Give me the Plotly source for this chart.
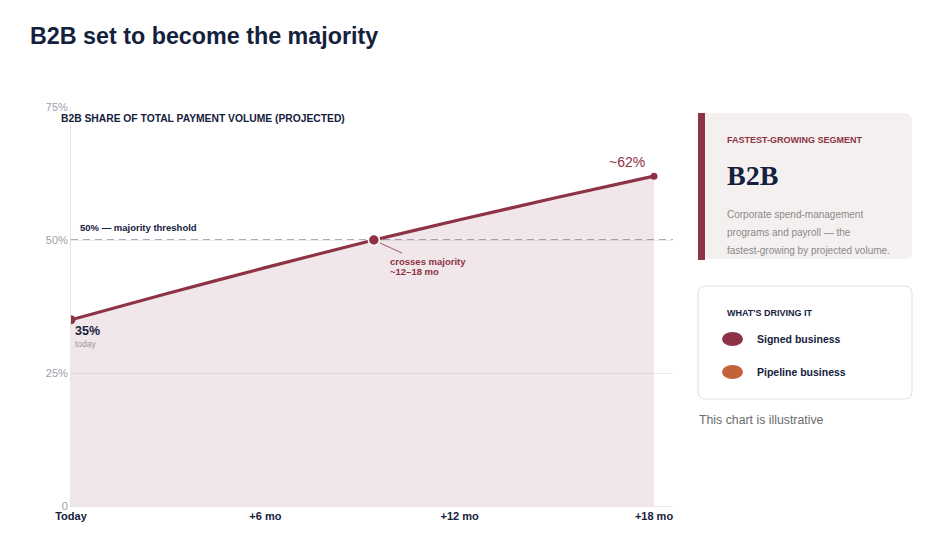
import plotly.graph_objects as go

# ---- data ----
months = [0, 3, 6, 9.35, 12, 15, 18]
share = [35, 40.0, 44.8, 50, 53.8, 58.0, 62]
key_months = [0, 9.35, 18]
key_share = [35, 50, 62]
x_tickvals = [0, 6, 12, 18]
x_ticktext = ["Today", "+6 mo", "+12 mo", "+18 mo"]
y_tickvals = [0, 25, 50, 75]
y_ticktext = ["0", "25%", "50%", "75%"]
threshold = 50

OFF = 8  # page body margin
W, H = 942, 558
# plot area in screenshot pixels: x 71..673, y 107..506
L, T = 71 - OFF, 107 - OFF
R = W - (673 - OFF)
B = H - (506 - OFF)
PW, PH = W - L - R, H - T - B

def px(x):
    return (x - OFF - L) / PW

def py(y):
    return (H - B - (y - OFF)) / PH

NAVY = "#14213d"
MAROON = "#8e3346"
GREY = "#8a8a8a"
FONT = "Liberation Sans, Arial, sans-serif"

fig = go.Figure()
fig.add_trace(go.Scatter(
    x=months, y=share, mode="lines", fill="tozeroy",
    fillcolor="rgba(142,51,70,0.12)",
    line=dict(color=MAROON, width=3.2, shape="spline", smoothing=0.3),
    hoverinfo="skip", showlegend=False))
fig.add_trace(go.Scatter(
    x=key_months, y=key_share, mode="markers",
    marker=dict(color=MAROON, size=[9, 11, 7], opacity=1,
                line=dict(color="white", width=[0, 1.5, 0])),
    hoverinfo="skip", showlegend=False))

shapes = []
# threshold dashed line
shapes.append(dict(type="line", xref="paper", yref="y", x0=0, x1=1,
                   y0=threshold, y1=threshold,
                   line=dict(color="#8b91a7", width=1.5, dash="7px,5px"), layer="below"))
# connector line for crossing annotation
shapes.append(dict(type="line", xref="paper", yref="paper",
                   x0=px(380), y0=py(243), x1=px(402), y1=py(253),
                   line=dict(color=MAROON, width=0.8)))

def rrect(x0, y0, x1, y1, r):
    rx, ry = r / PW, r / PH
    a, b, c, d = px(x0), py(y0), px(x1), py(y1)
    return (f"M{a+rx},{b} L{c-rx},{b} Q{c},{b} {c},{b-ry} L{c},{d+ry} "
            f"Q{c},{d} {c-rx},{d} L{a+rx},{d} Q{a},{d} {a},{d+ry} "
            f"L{a},{b-ry} Q{a},{b} {a+rx},{b} Z")

# card 1
shapes.append(dict(type="path", xref="paper", yref="paper",
                   path=rrect(698, 113, 912, 259, 8),
                   fillcolor="#f4f0ef", line=dict(width=0)))
shapes.append(dict(type="rect", xref="paper", yref="paper",
                   x0=px(698), x1=px(705), y0=py(113), y1=py(260),
                   fillcolor=MAROON, line=dict(width=0)))
# card 2
shapes.append(dict(type="path", xref="paper", yref="paper",
                   path=rrect(698, 286, 912, 399, 8),
                   fillcolor="white", line=dict(color="#e3e3e3", width=1.2)))
# legend ellipses
for yc, col in [(339, MAROON), (372, "#c4623a")]:
    shapes.append(dict(type="circle", xref="paper", yref="paper",
                       x0=px(722), x1=px(743), y0=py(yc - 7), y1=py(yc + 7),
                       fillcolor=col, line=dict(width=0)))

ann = []
def text(x, y, s, size, color=NAVY, weight=400, family=FONT, xanchor="left"):
    ann.append(dict(x=px(x - 1), y=py(y), xref="paper", yref="paper", text=s,
                    showarrow=False, xanchor=xanchor, yanchor="middle",
                    font=dict(size=size, color=color, family=family, weight=weight)))

text(29, 36, "B2B set to become the majority", 23.3, weight=700)
text(60, 118, "B2B SHARE OF TOTAL PAYMENT VOLUME (PROJECTED)", 10.3, weight=700)
text(79, 227, "50% — majority threshold", 9.5, weight=700)
text(74, 331, "35%", 12.5, weight=700)
text(74, 344, "today", 8.5, color="#9a9aa0")
text(389, 261, "crosses majority", 9.5, color=MAROON, weight=700)
text(389, 271, "~12–18 mo", 9.5, color=MAROON, weight=700)
text(648, 162, "~62%", 14, color=MAROON, xanchor="right")

text(726, 140, "FASTEST-GROWING SEGMENT", 9, color=MAROON, weight=700)
text(726, 175, "B2B", 28, weight=700, family="Liberation Serif, DejaVu Serif, serif")
text(726, 214, "Corporate spend-management", 10, color=GREY)
text(726, 232, "programs and payroll — the", 10, color=GREY)
text(726, 250, "fastest-growing by projected volume.", 10, color=GREY)

text(726, 313, "WHAT'S DRIVING IT", 9, weight=700)
text(756, 339, "Signed business", 10.5, weight=700)
text(756, 372, "Pipeline business", 10.5, weight=700)
text(698, 420, "This chart is illustrative", 12.3, color="#6b6b6b")

fig.update_layout(
    width=W, height=H, margin=dict(l=L, r=R, t=T, b=B),
    paper_bgcolor="white", plot_bgcolor="white",
    shapes=shapes, annotations=ann,
    font=dict(family=FONT),
    xaxis=dict(range=[0, (673 - 71) / ((654 - 71) / 18)], tickvals=x_tickvals,
               ticktext=x_ticktext, showgrid=False, zeroline=False,
               showline=True, linecolor="#e6e6e6", linewidth=1, ticks="",
               tickfont=dict(size=11, color=NAVY, weight=700)),
    yaxis=dict(range=[0, 75], tickvals=y_tickvals, ticktext=y_ticktext,
               showgrid=True, gridcolor="#ececec", zeroline=False,
               showline=True, linecolor="#e6e6e6", ticks="",
               tickfont=dict(size=11, color="#a0a0aa")),
    hovermode=False,
)

fig.write_html("out.html")
